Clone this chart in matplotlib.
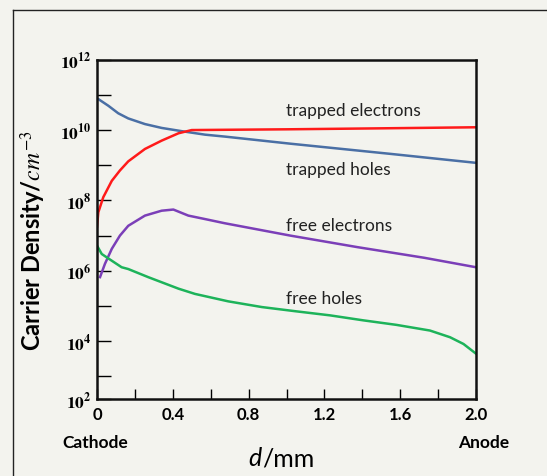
import numpy as np
import matplotlib
matplotlib.use("Agg")
import matplotlib.pyplot as plt
from matplotlib.lines import Line2D

# 读图所得数据 (d / mm, 载流子浓度 / cm^-3)
d_trap_h = [0.0, 0.007, 0.06, 0.112, 0.165, 0.253, 0.341, 0.447, 0.57, 0.677, 1.02, 1.55, 2.0]
n_trap_h = [7.6e10, 7.6e10, 4.9e10, 3.0e10, 2.14e10, 1.48e10, 1.15e10, 9.3e9, 7.4e9, 6.5e9,
            4.1e9, 2.1e9, 1.17e9]

d_trap_e = [0.0, 0.007, 0.033, 0.078, 0.121, 0.165, 0.253, 0.341, 0.43, 0.5, 0.7, 1.0, 1.5, 2.0]
n_trap_e = [1.8e7, 4.6e7, 1.23e8, 3.6e8, 7.1e8, 1.29e9, 2.9e9, 5.0e9, 8.1e9, 1.0e10,
            1.02e10, 1.05e10, 1.12e10, 1.2e10]

d_free_e = [0.016, 0.042, 0.078, 0.121, 0.165, 0.253, 0.341, 0.403, 0.482, 0.57, 0.675,
            1.02, 1.374, 1.727, 2.0]
n_free_e = [6.6e5, 1.58e6, 4.2e6, 1.0e7, 1.9e7, 3.7e7, 5.1e7, 5.5e7, 3.7e7, 2.95e7, 2.24e7,
            1.0e7, 4.7e6, 2.34e6, 1.26e6]

d_free_h = [0.0, 0.025, 0.06, 0.13, 0.165, 0.27, 0.43, 0.517, 0.693, 0.87, 1.045, 1.23,
            1.405, 1.58, 1.757, 1.863, 1.934, 2.0]
n_free_h = [5.2e6, 3.0e6, 2.24e6, 1.26e6, 1.12e6, 6.6e5, 3.1e5, 2.2e5, 1.35e5, 9.3e4, 7.1e4,
            5.4e4, 3.9e4, 2.9e4, 2.0e4, 1.29e4, 8.3e3, 4.4e3]

curve_names = ["trapped electrons", "trapped holes", "free electrons", "free holes"]
label_y = [3.8e10, 8.0e8, 2.0e7, 1.65e5]

x_major = [0, 0.4, 0.8, 1.2, 1.6, 2.0]
x_ticklabels = ["0", "0.4", "0.8", "1.2", "1.6", "2.0"]
y_decades = [3, 4, 5, 6, 7, 8, 9, 10, 11, 12]
y_labelled = [4, 6, 8, 10, 12]
y_low = 10 ** 2.355  # 原图最下面一段比一个数量级短, 底边标为 10^2

BG = "#f3f3ee"
plt.rcParams["mathtext.fontset"] = "stix"

W, H = 547, 477
fig = plt.figure(figsize=(W / 100, H / 100), dpi=100, facecolor=BG)
ax = fig.add_axes([97 / W, (H - 400) / H, (476 - 97) / W, (400 - 60.7) / H])
ax.set_facecolor(BG)

ax.plot(d_trap_h, n_trap_h, color="#4a6fa5", lw=1.8)
ax.plot(d_trap_e, n_trap_e, color="#ff1a1a", lw=1.8)
ax.plot(d_free_e, n_free_e, color="#7b3fb8", lw=1.8)
ax.plot(d_free_h, n_free_h, color="#1db35a", lw=1.8)

for name, yv in zip(curve_names, label_y):
    ax.text(0.995, yv, name, fontsize=12.5, family="Lato", color="#222222", va="center")

ax.set_yscale("log")
ax.set_xlim(0, 2.0)
ax.set_ylim(y_low, 1e12)
ax.set_yticks([y_low] + [10.0 ** e for e in y_decades])
ax.set_yticklabels([r"$\mathbf{10^{2}}$"] +
                   [r"$\mathbf{10^{%d}}$" % e if e in y_labelled else "" for e in y_decades],
                   fontsize=12.5)
ax.yaxis.set_minor_locator(matplotlib.ticker.NullLocator())
ax.set_xticks(x_major)
ax.set_xticklabels(x_ticklabels, fontsize=12, family="Lato", fontweight="bold")
ax.set_xticks(np.arange(0.2, 2.0, 0.4), minor=True)
ax.tick_params(axis="y", which="both", direction="in", length=10, width=1.0, pad=4)
ax.tick_params(axis="x", which="both", direction="in", length=7, width=1.0, pad=5)
for s in ax.spines.values():
    s.set_linewidth(1.8)
    s.set_color("#111111")

ax.set_ylabel(r"Carrier Density/$cm^{-3}$", fontsize=17, family="Lato",
              fontweight="bold")
ax.yaxis.set_label_coords(-0.128, 0.47)

fig.text(95 / W, 1 - 443 / H, "Cathode", ha="center", va="center",
         fontsize=12.5, family="Lato", fontweight="bold")
fig.text(484 / W, 1 - 443 / H, "Anode", ha="center", va="center",
         fontsize=12.5, family="Lato", fontweight="bold")
fig.text(262 / W, 1 - 459 / H, "d", ha="right", va="center",
         fontsize=18, family="Lato", style="italic")
fig.text(262 / W, 1 - 459 / H, "/mm", ha="left", va="center",
         fontsize=18, family="Lato")

# 外框
fig.add_artist(Line2D([12.5 / W, 12.5 / W], [0, 1 - 10.5 / H], color="#222222", lw=1.0))
fig.add_artist(Line2D([12.5 / W, 1], [1 - 10.5 / H, 1 - 10.5 / H], color="#222222", lw=1.0))

fig.savefig("out.png", dpi=100, facecolor=BG)
